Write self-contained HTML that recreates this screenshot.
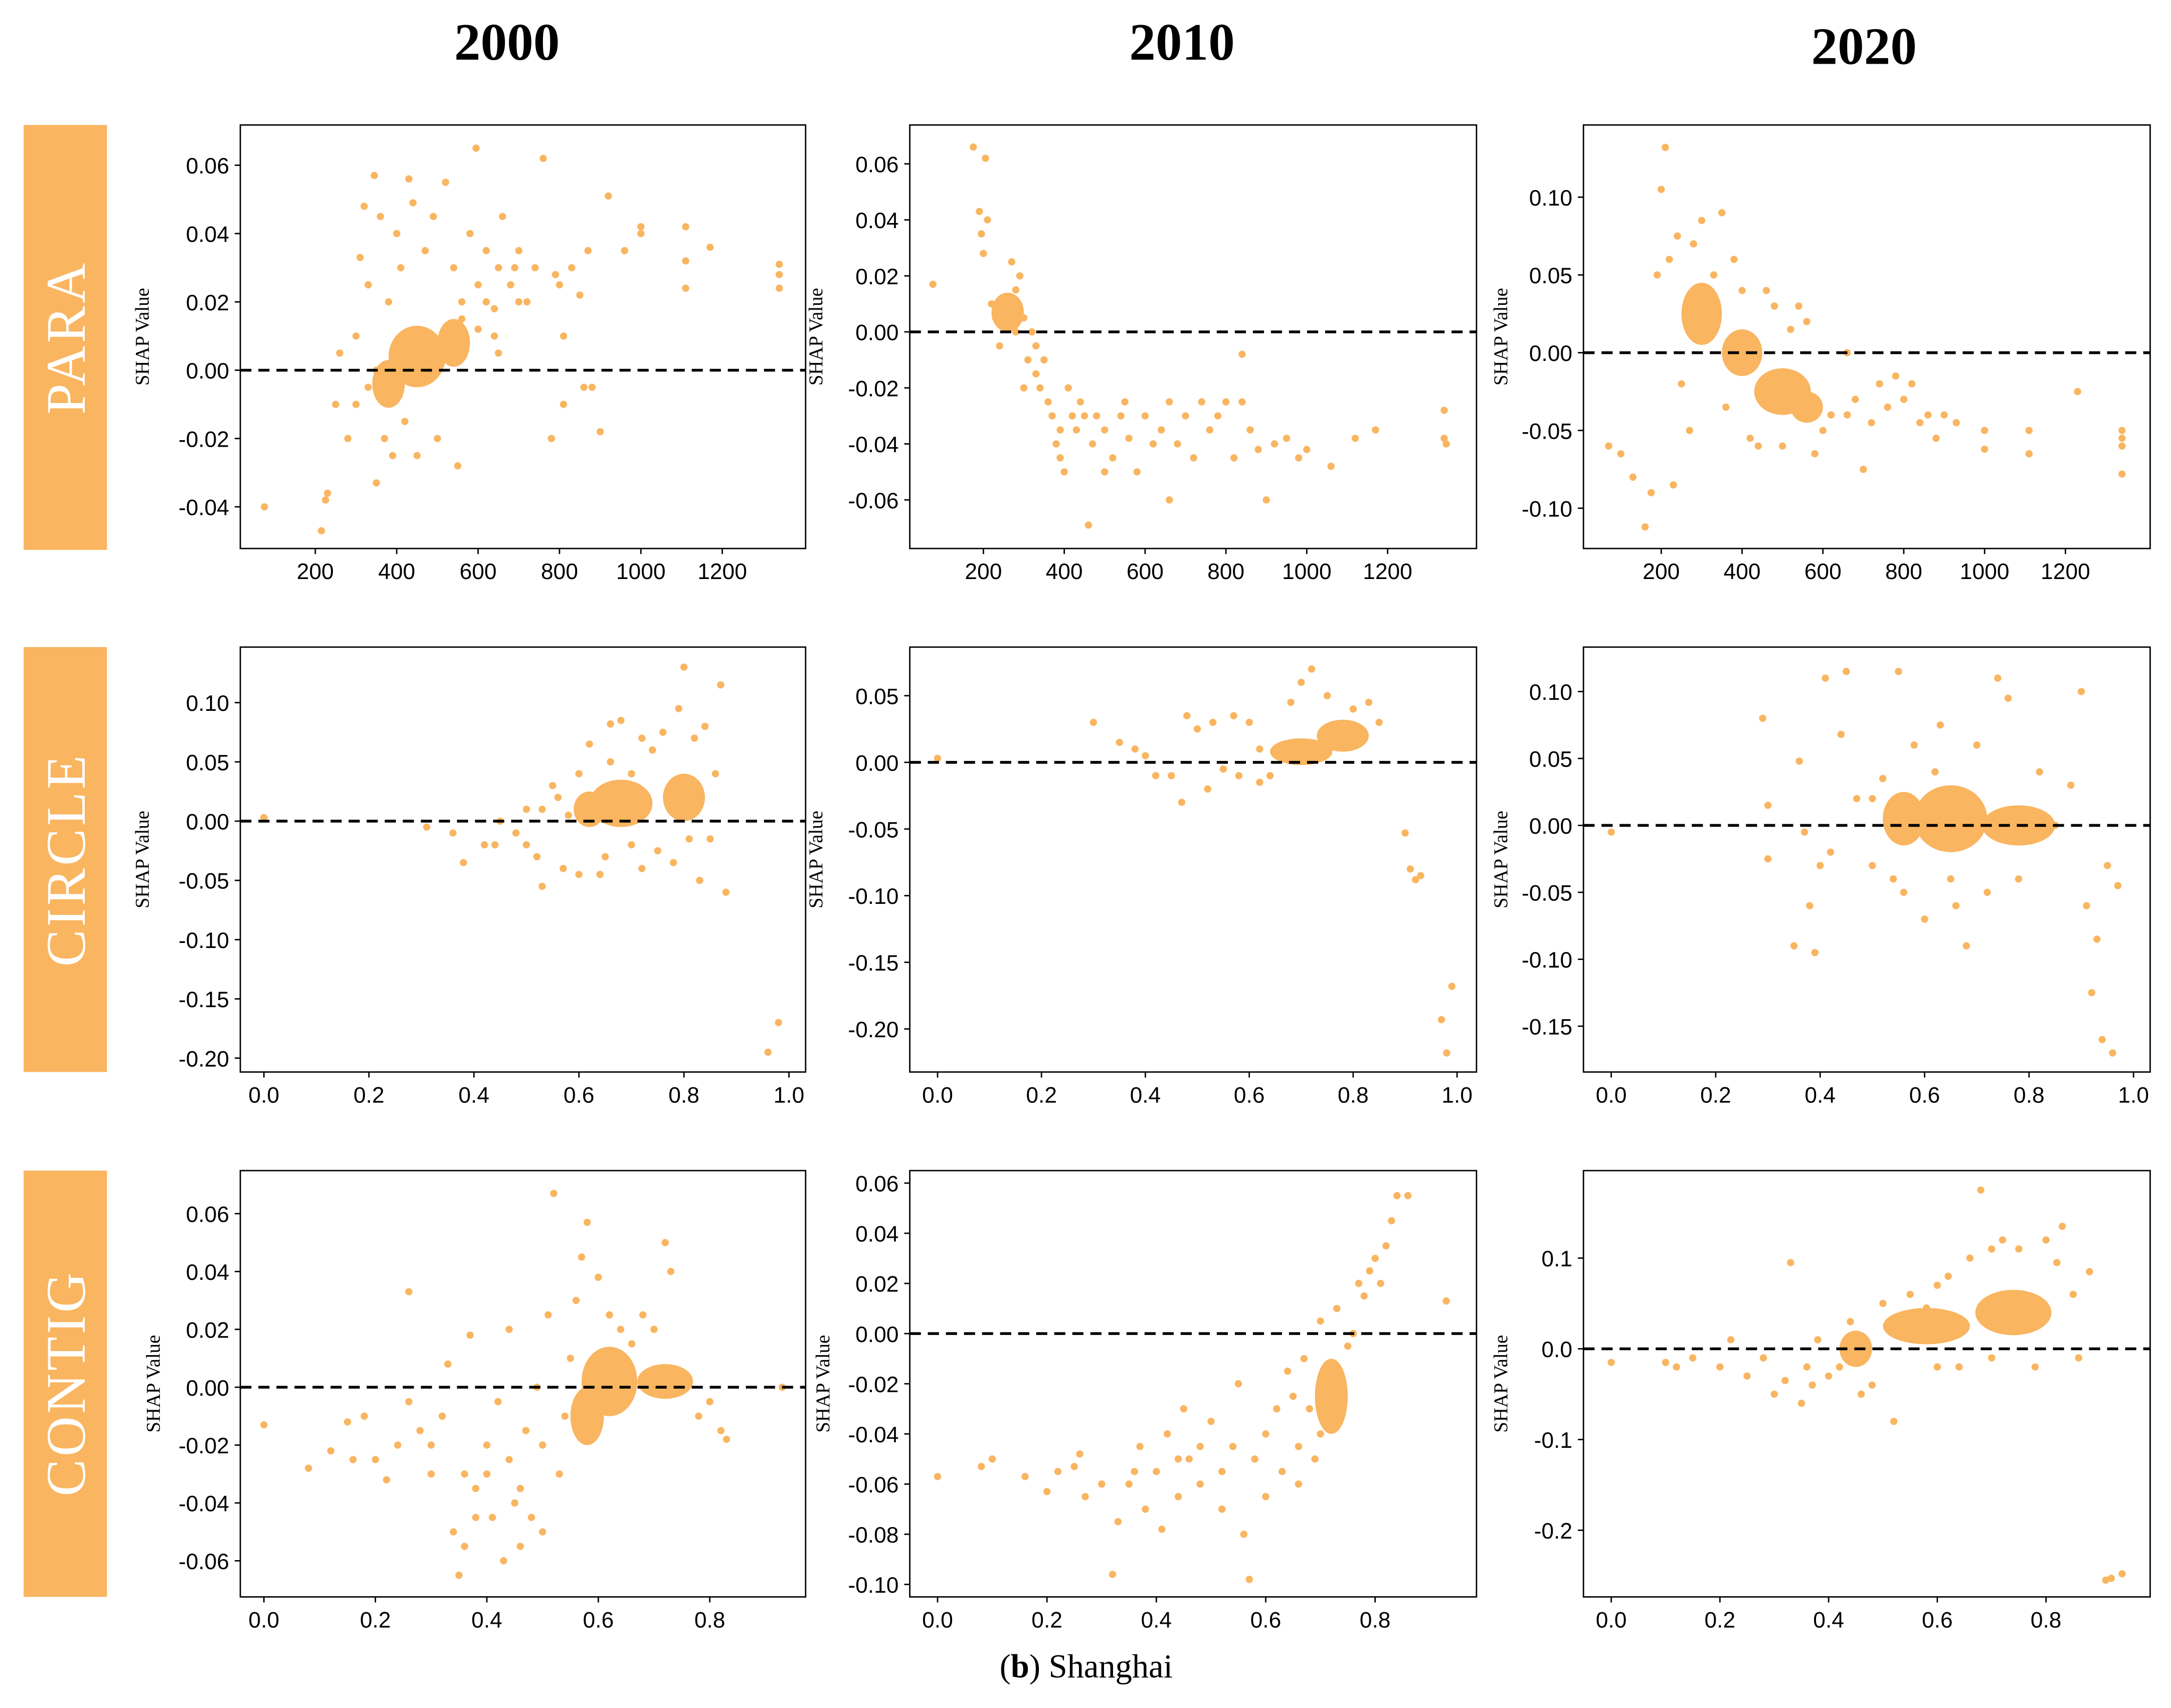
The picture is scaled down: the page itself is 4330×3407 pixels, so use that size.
<!DOCTYPE html>
<html><head><meta charset="utf-8"><style>
html,body{margin:0;padding:0;background:#fff;}
svg{display:block;}
</style></head><body>
<svg id="fig" xmlns="http://www.w3.org/2000/svg" width="4330" height="3407" viewBox="0 0 1563 1230" preserveAspectRatio="none">
<rect x="0" y="0" width="1563" height="1230" fill="#fff"/>
<text x="365" y="43" text-anchor="middle" font-family="Liberation Serif, serif" font-weight="bold" font-size="38">2000</text>
<text x="851" y="43" text-anchor="middle" font-family="Liberation Serif, serif" font-weight="bold" font-size="38">2010</text>
<text x="1342" y="46" text-anchor="middle" font-family="Liberation Serif, serif" font-weight="bold" font-size="38">2020</text>
<g><rect x="17" y="90" width="60" height="306" fill="#F9B560"/><text x="47" y="243" transform="rotate(-90 47 243)" dy="14" text-anchor="middle" font-family="Liberation Serif, serif" font-size="40" fill="#fff" letter-spacing="2">PARA</text></g>
<g><rect x="17" y="466" width="60" height="306" fill="#F9B560"/><text x="47" y="619" transform="rotate(-90 47 619)" dy="14" text-anchor="middle" font-family="Liberation Serif, serif" font-size="40" fill="#fff" letter-spacing="2">CIRCLE</text></g>
<g><rect x="17" y="843" width="60" height="307" fill="#F9B560"/><text x="47" y="996" transform="rotate(-90 47 996)" dy="14" text-anchor="middle" font-family="Liberation Serif, serif" font-size="40" fill="#fff" letter-spacing="2">CONTIG</text></g>
<text x="782" y="1208" text-anchor="middle" font-family="Liberation Serif, serif" font-size="24">(<tspan font-weight="bold">b</tspan>) Shanghai</text>
<g id="panels"></g>
</svg>
<script>
// ---- data (x, SHAP value) ----
const p1Points=[[75,-0.040],[215,-0.047],[230,-0.036],[225,-0.038],[250,-0.01],[260,0.005],[280,-0.02],[300,0.01],[310,0.033],[320,0.048],[330,0.025],[345,0.057],[350,-0.033],[360,0.045],[370,-0.02],[380,0.02],[390,-0.025],[400,0.04],[410,0.03],[420,-0.015],[430,0.056],[440,0.049],[450,-0.025],[470,0.035],[490,0.045],[500,-0.02],[520,0.055],[540,0.03],[550,-0.028],[560,0.02],[580,0.04],[595,0.065],[600,0.025],[620,0.035],[640,0.01],[650,0.03],[660,0.045],[680,0.025],[700,0.035],[720,0.02],[740,0.03],[760,0.062],[780,-0.02],[790,0.028],[800,0.025],[810,0.01],[830,0.03],[850,0.022],[870,0.035],[880,-0.005],[900,-0.018],[920,0.051],[960,0.035],[1000,0.04],[1000,0.042],[1110,0.042],[1110,0.024],[1110,0.032],[1170,0.036],[1340,0.031],[1340,0.024],[1340,0.028],[300,-0.01],[330,-0.005],[350,0.0],[520,0.01],[560,0.015],[600,0.012],[620,0.02],[640,0.018],[690,0.03],[700,0.02],[650,0.005],[810,-0.01],[860,-0.005]];
const p1Clusters=[[450,0.004,70,0.009],[380,-0.004,40,0.007],[540,0.008,40,0.007]];
const p2Points=[[75,0.017],[175,0.066],[190,0.043],[195,0.035],[200,0.028],[205,0.062],[210,0.04],[220,0.01],[230,0.005],[240,-0.005],[250,0.005],[260,0.01],[270,0.025],[280,0.015],[290,0.02],[300,0.005],[310,-0.01],[320,0.0],[330,-0.015],[340,-0.02],[350,-0.01],[360,-0.025],[370,-0.03],[380,-0.04],[390,-0.045],[400,-0.05],[410,-0.02],[420,-0.03],[430,-0.035],[440,-0.025],[460,-0.069],[470,-0.04],[480,-0.03],[500,-0.035],[520,-0.045],[540,-0.03],[560,-0.038],[580,-0.05],[600,-0.03],[620,-0.04],[640,-0.035],[660,-0.06],[660,-0.025],[680,-0.04],[700,-0.03],[720,-0.045],[740,-0.025],[760,-0.035],[780,-0.03],[800,-0.025],[820,-0.045],[840,-0.008],[840,-0.025],[860,-0.035],[880,-0.042],[900,-0.06],[920,-0.04],[950,-0.038],[980,-0.045],[1000,-0.042],[1060,-0.048],[1120,-0.038],[1170,-0.035],[1340,-0.028],[1340,-0.038],[1345,-0.04],[500,-0.05],[550,-0.025],[450,-0.03],[390,-0.035],[330,-0.005],[300,-0.02],[280,0.0],[240,0.01]];
const p2Clusters=[[260,0.007,40,0.007]];
const p3Points=[[70,-0.06],[100,-0.065],[130,-0.08],[160,-0.112],[175,-0.09],[190,0.05],[200,0.105],[210,0.132],[220,0.06],[230,-0.085],[240,0.075],[250,-0.02],[270,-0.05],[280,0.07],[300,0.085],[310,0.04],[330,0.05],[350,0.09],[360,-0.035],[380,0.06],[400,0.04],[420,-0.055],[440,-0.06],[460,0.04],[480,0.03],[500,-0.06],[520,0.015],[540,0.03],[560,0.02],[580,-0.065],[600,-0.05],[620,-0.04],[660,0.0],[660,-0.04],[680,-0.03],[700,-0.075],[720,-0.045],[740,-0.02],[760,-0.035],[780,-0.015],[800,-0.03],[820,-0.02],[840,-0.045],[860,-0.04],[880,-0.055],[900,-0.04],[930,-0.045],[1000,-0.05],[1000,-0.062],[1110,-0.05],[1110,-0.065],[1230,-0.025],[1340,-0.055],[1340,-0.06],[1340,-0.078],[1340,-0.05]];
const p3Clusters=[[300,0.025,50,0.02],[400,0.0,50,0.015],[500,-0.025,70,0.015],[560,-0.035,40,0.01]];
const p4Points=[[0,0.003],[0.31,-0.005],[0.36,-0.01],[0.38,-0.035],[0.42,-0.02],[0.45,0.0],[0.5,0.01],[0.52,-0.03],[0.53,-0.055],[0.55,0.03],[0.57,-0.04],[0.6,-0.045],[0.62,0.065],[0.64,-0.045],[0.66,0.05],[0.68,0.085],[0.7,0.04],[0.72,-0.04],[0.74,0.06],[0.76,0.075],[0.78,-0.035],[0.79,0.095],[0.8,0.13],[0.82,0.07],[0.83,-0.05],[0.85,-0.015],[0.87,0.115],[0.88,-0.06],[0.86,0.04],[0.84,0.08],[0.96,-0.195],[0.98,-0.17],[0.5,-0.02],[0.56,0.02],[0.6,0.04],[0.65,-0.03],[0.7,-0.02],[0.75,-0.025],[0.81,-0.015],[0.66,0.082],[0.72,0.07],[0.58,0.005],[0.53,0.01],[0.48,-0.01],[0.44,-0.02]];
const p4Clusters=[[0.68,0.015,0.06,0.02],[0.8,0.02,0.04,0.02],[0.62,0.01,0.03,0.015]];
const p5Points=[[0,0.003],[0.3,0.03],[0.35,0.015],[0.38,0.01],[0.4,0.005],[0.42,-0.01],[0.45,-0.01],[0.47,-0.03],[0.48,0.035],[0.5,0.025],[0.52,-0.02],[0.53,0.03],[0.55,-0.005],[0.57,0.035],[0.6,0.03],[0.62,0.01],[0.64,-0.01],[0.68,0.045],[0.7,0.06],[0.72,0.07],[0.75,0.05],[0.8,0.04],[0.83,0.045],[0.85,0.03],[0.9,-0.053],[0.91,-0.08],[0.92,-0.088],[0.93,-0.085],[0.97,-0.193],[0.98,-0.218],[0.99,-0.168],[0.58,-0.01],[0.62,-0.015]];
const p5Clusters=[[0.7,0.008,0.06,0.01],[0.78,0.02,0.05,0.012]];
const p6Points=[[0,-0.005],[0.29,0.08],[0.3,0.015],[0.3,-0.025],[0.35,-0.09],[0.36,0.048],[0.37,-0.005],[0.38,-0.06],[0.39,-0.095],[0.4,-0.03],[0.41,0.11],[0.42,-0.02],[0.44,0.068],[0.45,0.115],[0.47,0.02],[0.5,-0.03],[0.52,0.035],[0.55,0.115],[0.56,-0.05],[0.58,0.06],[0.6,-0.07],[0.63,0.075],[0.66,-0.06],[0.68,-0.09],[0.7,0.06],[0.72,-0.05],[0.74,0.11],[0.76,0.095],[0.78,-0.04],[0.82,0.04],[0.85,0.0],[0.88,0.03],[0.9,0.1],[0.91,-0.06],[0.92,-0.125],[0.93,-0.085],[0.94,-0.16],[0.96,-0.17],[0.97,-0.045],[0.95,-0.03],[0.5,0.02],[0.54,-0.04],[0.62,0.04],[0.65,-0.04]];
const p6Clusters=[[0.65,0.005,0.07,0.025],[0.78,0.0,0.07,0.015],[0.56,0.005,0.04,0.02]];
const p7Points=[[0,-0.013],[0.08,-0.028],[0.12,-0.022],[0.15,-0.012],[0.16,-0.025],[0.18,-0.01],[0.2,-0.025],[0.22,-0.032],[0.24,-0.02],[0.26,0.033],[0.26,-0.005],[0.28,-0.015],[0.3,-0.03],[0.32,-0.01],[0.33,0.008],[0.34,-0.05],[0.35,-0.065],[0.36,-0.055],[0.37,0.018],[0.38,-0.035],[0.4,-0.02],[0.41,-0.045],[0.42,-0.005],[0.43,-0.06],[0.44,0.02],[0.45,-0.04],[0.46,-0.035],[0.47,-0.015],[0.48,-0.045],[0.49,0.0],[0.5,-0.05],[0.51,0.025],[0.52,0.067],[0.53,-0.03],[0.54,-0.01],[0.55,0.01],[0.56,0.03],[0.57,0.045],[0.58,0.057],[0.6,0.038],[0.62,0.025],[0.64,0.02],[0.66,0.015],[0.68,0.025],[0.7,0.02],[0.72,0.05],[0.73,0.04],[0.75,0.0],[0.78,-0.01],[0.8,-0.005],[0.82,-0.015],[0.83,-0.018],[0.93,0.0],[0.4,-0.03],[0.44,-0.025],[0.38,-0.045],[0.5,-0.02],[0.3,-0.02],[0.36,-0.03],[0.46,-0.055]];
const p7Clusters=[[0.62,0.002,0.05,0.012],[0.58,-0.01,0.03,0.01],[0.72,0.002,0.05,0.006]];
const p8Points=[[0,-0.057],[0.08,-0.053],[0.1,-0.05],[0.16,-0.057],[0.2,-0.063],[0.22,-0.055],[0.25,-0.053],[0.27,-0.065],[0.3,-0.06],[0.32,-0.096],[0.33,-0.075],[0.35,-0.06],[0.37,-0.045],[0.38,-0.07],[0.4,-0.055],[0.41,-0.078],[0.42,-0.04],[0.44,-0.065],[0.45,-0.03],[0.46,-0.05],[0.48,-0.06],[0.5,-0.035],[0.52,-0.055],[0.54,-0.045],[0.55,-0.02],[0.56,-0.08],[0.57,-0.098],[0.58,-0.05],[0.6,-0.04],[0.6,-0.065],[0.62,-0.03],[0.63,-0.055],[0.65,-0.025],[0.66,-0.045],[0.67,-0.01],[0.68,-0.03],[0.7,0.005],[0.7,-0.04],[0.72,-0.015],[0.73,0.01],[0.74,-0.02],[0.75,-0.005],[0.76,0.0],[0.77,0.02],[0.78,0.015],[0.79,0.025],[0.8,0.03],[0.81,0.02],[0.82,0.035],[0.83,0.045],[0.84,0.055],[0.86,0.055],[0.93,0.013],[0.52,-0.07],[0.48,-0.045],[0.44,-0.05],[0.36,-0.055],[0.26,-0.048],[0.64,-0.015],[0.69,-0.05],[0.71,-0.025],[0.66,-0.06]];
const p8Clusters=[[0.72,-0.025,0.03,0.015]];
const p9Points=[[0,-0.015],[0.1,-0.015],[0.12,-0.02],[0.15,-0.01],[0.2,-0.02],[0.22,0.01],[0.25,-0.03],[0.28,-0.01],[0.3,-0.05],[0.32,-0.035],[0.33,0.095],[0.35,-0.06],[0.37,-0.04],[0.38,0.01],[0.4,-0.03],[0.42,-0.02],[0.44,0.03],[0.46,-0.05],[0.5,0.05],[0.52,-0.08],[0.55,0.06],[0.58,0.045],[0.6,0.07],[0.62,0.08],[0.64,-0.02],[0.66,0.1],[0.68,0.175],[0.7,0.11],[0.72,0.12],[0.75,0.11],[0.78,-0.02],[0.8,0.12],[0.82,0.095],[0.83,0.135],[0.85,0.06],[0.86,-0.01],[0.88,0.085],[0.91,-0.255],[0.92,-0.253],[0.94,-0.248],[0.48,-0.04],[0.36,-0.02],[0.6,-0.02],[0.7,-0.01]];
const p9Clusters=[[0.58,0.025,0.08,0.02],[0.74,0.04,0.07,0.025],[0.45,0.0,0.03,0.02]];
// tick values
const xTicksArea=[200,400,600,800,1000,1200];
const xTicksCircle=[0,0.2,0.4,0.6,0.8,1.0];
const xTicksContig=[0,0.2,0.4,0.6,0.8];
const yTicks1=[-0.04,-0.02,0,0.02,0.04,0.06];
const yTicks2=[-0.06,-0.04,-0.02,0,0.02,0.04,0.06];
const yTicks3=[-0.10,-0.05,0,0.05,0.10];
const yTicks4=[-0.20,-0.15,-0.10,-0.05,0,0.05,0.10];
const yTicks5=[-0.20,-0.15,-0.10,-0.05,0,0.05];
const yTicks6=[-0.15,-0.10,-0.05,0,0.05,0.10];
const yTicks7=[-0.06,-0.04,-0.02,0,0.02,0.04,0.06];
const yTicks8=[-0.10,-0.08,-0.06,-0.04,-0.02,0,0.02,0.04,0.06];
const yTicks9=[-0.2,-0.1,0,0.1];

const NS='http://www.w3.org/2000/svg';
const COLOR='#F9B560';
function mk(tag,attrs,parent){const e=document.createElementNS(NS,tag);for(const k in attrs)e.setAttribute(k,attrs[k]);parent.appendChild(e);return e;}
function lin(v0,p0,v1,p1){return v=>p0+(v-v0)*(p1-p0)/(v1-v0);}

// layout: box, calibration (value->pixel pairs), label positions
const panels=[
 {name:'para-2000',box:[173,90,580,395],xc:[200,227,1200,520],yc:[0.06,119,-0.04,365],xt:xTicksArea,xd:0,yt:yTicks1,yd:2,pts:p1Points,cl:p1Clusters,yl:107},
 {name:'para-2010',box:[655,90,1063,395],xc:[200,708,1200,999],yc:[0.06,118,-0.06,360],xt:xTicksArea,xd:0,yt:yTicks2,yd:2,pts:p2Points,cl:p2Clusters,yl:592},
 {name:'para-2020',box:[1140,90,1548,395],xc:[200,1196,1200,1487],yc:[0.10,142,-0.10,366],xt:xTicksArea,xd:0,yt:yTicks3,yd:2,pts:p3Points,cl:p3Clusters,yl:1085},
 {name:'circle-2000',box:[173,466,580,772],xc:[0,190,1,568],yc:[0.10,506,-0.20,762],xt:xTicksCircle,xd:1,yt:yTicks4,yd:2,pts:p4Points,cl:p4Clusters,yl:107},
 {name:'circle-2010',box:[655,466,1063,772],xc:[0,675,1,1049],yc:[0.05,501,-0.20,741],xt:xTicksCircle,xd:1,yt:yTicks5,yd:2,pts:p5Points,cl:p5Clusters,yl:592},
 {name:'circle-2020',box:[1140,466,1548,772],xc:[0,1160,1,1536],yc:[0.10,498,-0.15,739],xt:xTicksCircle,xd:1,yt:yTicks6,yd:2,pts:p6Points,cl:p6Clusters,yl:1085},
 {name:'contig-2000',box:[173,843,580,1150],xc:[0,190,0.8,511],yc:[0.06,874,-0.06,1124],xt:xTicksContig,xd:1,yt:yTicks7,yd:2,pts:p7Points,cl:p7Clusters,yl:115},
 {name:'contig-2010',box:[655,843,1063,1150],xc:[0,675,0.8,990],yc:[0.06,852,-0.10,1141],xt:xTicksContig,xd:1,yt:yTicks8,yd:2,pts:p8Points,cl:p8Clusters,yl:597},
 {name:'contig-2020',box:[1140,843,1548,1150],xc:[0,1160,0.8,1473],yc:[0.1,906,-0.2,1102],xt:xTicksContig,xd:1,yt:yTicks9,yd:1,pts:p9Points,cl:p9Clusters,yl:1085},
];
const root=document.getElementById('panels');
panels.forEach(P=>{
 const g=mk('g',{},root);
 
 
 const [x0,y0,x1,y1]=P.box;
 const sx=lin(P.xc[0],P.xc[1],P.xc[2],P.xc[3]);
 const sy=lin(P.yc[0],P.yc[1],P.yc[2],P.yc[3]);
 const clip='clip-'+P.name;
 const cp=mk('clipPath',{id:clip},g);mk('rect',{x:x0,y:y0,width:x1-x0,height:y1-y0},cp);
 const marks=mk('g',{'clip-path':'url(#'+clip+')'},g);
 P.cl.forEach(c=>{
  const e=mk('ellipse',{cx:sx(c[0]),cy:sy(c[1]),rx:Math.abs(sx(c[0]+c[2])-sx(c[0])),ry:Math.abs(sy(c[1]+c[3])-sy(c[1])),fill:COLOR},marks);
  
  
 });
 P.pts.forEach(p=>{
  const c=mk('circle',{cx:sx(p[0]),cy:sy(p[1]),r:2.6,fill:COLOR},marks);
  
  
 });
 const zl=mk('line',{x1:x0,x2:x1,y1:sy(0),y2:sy(0),stroke:'#000','stroke-width':2,'stroke-dasharray':'8,5'},g);
 
 
 const fr=mk('rect',{x:x0,y:y0,width:x1-x0,height:y1-y0,fill:'none',stroke:'#000','stroke-width':1},g);
 
 
 P.xt.forEach(v=>{
  const x=sx(v);
  mk('line',{x1:x,x2:x,y1:y1,y2:y1+4,stroke:'#000','stroke-width':1},g);
  const t=mk('text',{x:x,y:y1+22,'text-anchor':'middle','font-family':'Liberation Sans, Arial, sans-serif','font-size':16},g);
  t.textContent=v.toFixed(P.xd);
  
  
 });
 P.yt.forEach(v=>{
  const y=sy(v);
  mk('line',{x1:x0-4,x2:x0,y1:y,y2:y,stroke:'#000','stroke-width':1},g);
  const t=mk('text',{x:x0-8,y:y+6,'text-anchor':'end','font-family':'Liberation Sans, Arial, sans-serif','font-size':16},g);
  t.textContent=(Math.abs(v)<1e-9?0:v).toFixed(P.yd);
  
  
 });
 const cy=(y0+y1)/2;
 const yl=mk('text',{x:P.yl,y:cy,transform:'rotate(-90 '+P.yl+' '+cy+')','text-anchor':'middle','font-family':'Liberation Serif, serif','font-size':14},g);
 yl.textContent='SHAP Value';
 
 
});
</script>
</body></html>
